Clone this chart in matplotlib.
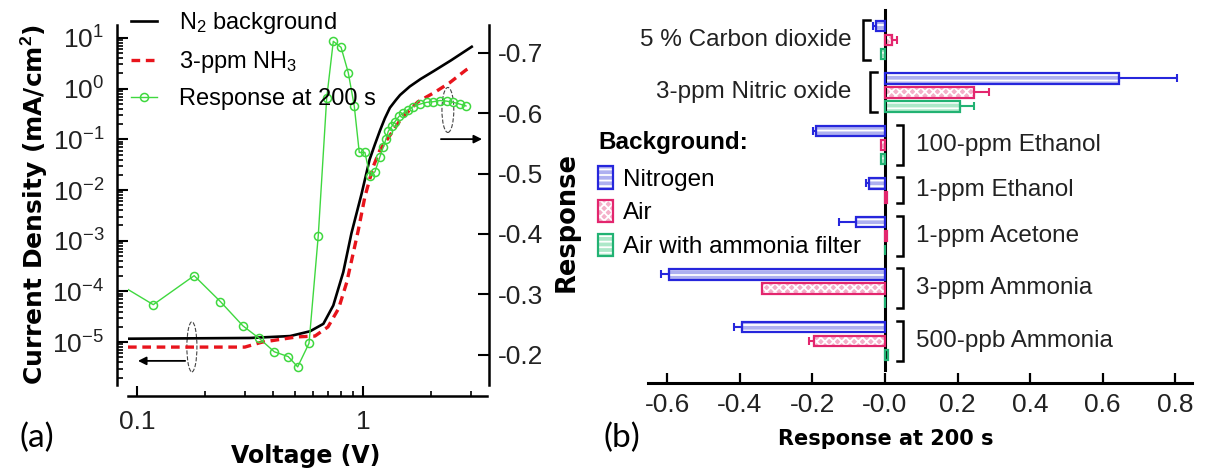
import numpy as np
import matplotlib
matplotlib.use('Agg')
import matplotlib.pyplot as plt
from matplotlib.patches import Ellipse, Rectangle
from matplotlib.legend_handler import HandlerTuple
from matplotlib.ticker import LogLocator, NullFormatter

plt.rcParams['font.family'] = 'Liberation Sans'
plt.rcParams['mathtext.fontset'] = 'custom'
plt.rcParams['mathtext.rm'] = 'Liberation Sans'
plt.rcParams['mathtext.it'] = 'Liberation Sans:italic'
plt.rcParams['mathtext.bf'] = 'Liberation Sans:bold'
plt.rcParams['hatch.linewidth'] = 1.3
plt.rcParams['axes.unicode_minus'] = False

# ---- (a) J-V curves and response ----
volt_n2 = [0.0912, 0.316, 0.476, 0.583, 0.668, 0.739, 0.818, 0.889, 0.987, 1.07,
           1.13, 1.19, 1.25, 1.316, 1.40, 1.46, 1.61, 1.80, 2.05, 2.45, 3.03]
j_n2 = [1.17e-5, 1.21e-5, 1.32e-5, 1.64e-5, 2.3e-5, 5.3e-5, 2.4e-4, 1.4e-3, 8.6e-3, 4.0e-2,
        8.0e-2, 1.5e-1, 2.6e-1, 4.2e-1, 6.0e-1, 7.5e-1, 1.1, 1.55, 2.2, 3.6, 6.7]

volt_nh3 = [0.0912, 0.30, 0.357, 0.509, 0.613, 0.70, 0.78, 0.847, 0.922, 0.953,
            1.02, 1.11, 1.19, 1.30, 1.48, 1.75, 2.08, 2.42, 2.86, 3.03]
j_nh3 = [8.0e-6, 8.0e-6, 1.0e-5, 1.27e-5, 1.32e-5, 2.0e-5, 4.6e-5, 1.5e-4, 8.2e-4, 1.6e-3,
         7.4e-3, 2.9e-2, 6.2e-2, 1.1e-1, 2.6e-1, 5.5e-1, 8.5e-1, 1.31, 2.34, 2.72]

volt_resp = [0.085, 0.118, 0.179, 0.234, 0.294, 0.348, 0.405, 0.467, 0.514, 0.577,
             0.634, 0.691, 0.739, 0.80, 0.861, 0.915, 0.963, 1.02, 1.074, 1.13,
             1.189, 1.230, 1.264, 1.294, 1.340, 1.385, 1.447, 1.508, 1.586, 1.670,
             1.787, 1.914, 2.047, 2.191, 2.346, 2.510, 2.687, 2.857]
resp_200s = [-0.315, -0.283, -0.331, -0.288, -0.248, -0.227, -0.205, -0.197, -0.180, -0.219,
             -0.397, -0.625, -0.719, -0.709, -0.667, -0.612, -0.535, -0.535, -0.496, -0.503,
             -0.528, -0.544, -0.557, -0.570, -0.578, -0.586, -0.595, -0.600, -0.606, -0.611,
             -0.615, -0.618, -0.619, -0.621, -0.620, -0.618, -0.615, -0.612]

# ---- (b) response at 200 s ----
gas_labels = ['5 % Carbon dioxide', '3-ppm Nitric oxide', '100-ppm Ethanol',
              '1-ppm Ethanol', '1-ppm Acetone', '3-ppm Ammonia', '500-ppb Ammonia']
series_names = ['Nitrogen', 'Air', 'Air with ammonia filter']
resp_n2 = [-0.025, 0.645, -0.19, -0.045, -0.08, -0.595, -0.395]
err_n2 = [0.007, 0.16, 0.008, 0.008, 0.046, 0.022, 0.02]
resp_air = [0.018, 0.246, -0.010, 0.006, 0.005, -0.338, -0.195]
err_air = [0.016, 0.041, 0, 0, 0, 0, 0.013]
resp_filter = [-0.011, 0.207, -0.011, np.nan, 0.0, 0.0, 0.009]
err_filter = [0, 0.037, 0, 0, 0, 0, 0]
xtick_vals = [-0.6, -0.4, -0.2, 0.0, 0.2, 0.4, 0.6, 0.8]
xtick_text = ['-0.6', '-0.4', '-0.2', '-0.0', '0.2', '0.4', '0.6', '0.8']

W, H = 1205, 472
fig = plt.figure(figsize=(W / 100, H / 100), dpi=100)

# ================= panel (a) =================
axa = fig.add_axes([128 / W, 1 - 385 / H, 359 / W, 360 / H])
axa.set_xscale('log')
axa.set_yscale('log')
l1, = axa.plot(volt_n2, j_n2, color='black', lw=1.9)
l2, = axa.plot(volt_nh3, j_nh3, color='#e8141c', lw=2.4, ls=(0, (2.6, 1.7)))
axa.set_xlim(0.0912, 3.54)
axa.set_ylim(1.43e-6, 18.0)

axa.spines['top'].set_visible(False)
axa.spines['right'].set_visible(False)
axa.spines['left'].set_position(('outward', 8))
axa.spines['bottom'].set_position(('outward', 8))
for s in ['left', 'bottom']:
    axa.spines[s].set_linewidth(1.8)

axa.set_xticks([0.1, 1])
axa.set_xticklabels(['0.1', '1'])
axa.xaxis.set_minor_locator(LogLocator(subs=np.arange(2, 10)))
axa.xaxis.set_minor_formatter(NullFormatter())
axa.set_yticks([1e-5, 1e-4, 1e-3, 1e-2, 1e-1, 1e0, 1e1])
axa.yaxis.set_minor_locator(LogLocator(subs=np.arange(2, 10), numticks=30))
axa.yaxis.set_minor_formatter(NullFormatter())
axa.tick_params(which='major', direction='in', length=8, width=1.5, labelsize=19,
                labelcolor='#222222')
axa.tick_params(which='minor', direction='in', length=4.5, width=1.2)
axa.tick_params(axis='x', which='major', length=7, pad=10)
axa.tick_params(axis='x', which='minor', length=3.6)
axa.tick_params(axis='y', pad=9)

axr = axa.twinx()
l3, = axr.plot(volt_resp, resp_200s, color='#3fd83f', lw=1.0, marker='o', ms=5.8,
               mfc='none', mec='#3fd83f', mew=1.1)
axr.set_ylim(-0.15, -0.746)
for s in ['left', 'top', 'bottom']:
    axr.spines[s].set_visible(False)
axr.spines['right'].set_position(('outward', 1.5))
axr.spines['right'].set_linewidth(1.8)
axr.set_yticks([-0.7, -0.6, -0.5, -0.4, -0.3, -0.2])
axr.tick_params(axis='y', direction='in', length=8, width=1.5, labelsize=19, pad=6,
                labelcolor='#222222')

# dashed ellipses and arrows
axa.add_patch(Ellipse((0.178, 0.106), 0.028, 0.139, transform=axa.transAxes,
                      fill=False, ls='--', lw=0.8, ec='#444444', clip_on=False))
axa.add_patch(Ellipse((0.891, 0.764), 0.033, 0.125, transform=axa.transAxes,
                      fill=False, ls='--', lw=0.8, ec='#444444', clip_on=False))
axa.annotate('', xy=(0.02, 0.067), xytext=(0.167, 0.067), xycoords='axes fraction',
             arrowprops=dict(arrowstyle='-|>', color='black', lw=1.3, mutation_scale=12))
axa.annotate('', xy=(0.994, 0.683), xytext=(0.864, 0.683), xycoords='axes fraction',
             arrowprops=dict(arrowstyle='-|>', color='black', lw=1.3, mutation_scale=12))

fig.legend([l1, l2, l3], ['N$_2$ background', '3-ppm NH$_3$', 'Response at 200 s'],
           loc='upper left', bbox_to_anchor=(131 / W, 1 - 10 / H), frameon=False,
           fontsize=17, handlelength=1.1, handletextpad=0.95, labelspacing=0.55,
           borderpad=0, borderaxespad=0)

fig.text(34 / W, 1 - 205 / H, 'Current Density (mA/cm$^{\\mathbf{2}}$)', rotation=90,
         ha='center', va='center', family='DejaVu Sans', weight='bold', size=18)
fig.text(567 / W, 1 - 222 / H, 'Response', rotation=90, ha='center', va='center',
         family='DejaVu Sans', weight='bold', size=18.5)
fig.text(306 / W, 1 - 456 / H, 'Voltage (V)', ha='center', va='center',
         family='DejaVu Sans', weight='bold', size=17)
fig.text(37 / W, 1 - 438 / H, '(a)', ha='center', va='center', family='Lato', size=24)

# ================= panel (b) =================
axb = fig.add_axes([648 / W, 1 - 370 / H, 544 / W, 360 / H])
axb.set_xlim(-0.653, 0.846)
axb.set_ylim(370, 10)

faces = ['#aeb0f0', '#f4afc9', '#ade8c9']
edges = ['#2626dc', '#e3266e', '#22b273']
hatches = ['---', 'xxxx', '---']
values = [resp_n2, resp_air, resp_filter]
errors = [err_n2, err_air, err_filter]

# bar slots: 14 apart within a group, wider gap between groups
slot = {k: [] for k in range(3)}
group_span = []
y = 26.0
for i in range(len(gas_labels)):
    ys = []
    for k in range(3):
        if np.isnan(values[k][i]):
            slot[k].append(np.nan)
            continue
        slot[k].append(y)
        ys.append(y)
        y += 14
    group_span.append((ys[0], ys[-1]))
    y += 10.5

for k in range(3):
    v = np.array(values[k], dtype=float)
    e = np.array(errors[k], dtype=float)
    pos = np.array(slot[k])
    ok = ~np.isnan(v)
    axb.barh(pos[ok], v[ok], height=10.5, color=faces[k], edgecolor='white',
             hatch=hatches[k], lw=0, zorder=2)
    axb.barh(pos[ok], v[ok], height=10.5, fill=False, edgecolor=edges[k], lw=1.6,
             zorder=3)
    has = ok & (e > 0)
    lo = np.where(v[has] < 0, e[has], 0)
    hi = np.where(v[has] >= 0, e[has], 0)
    axb.errorbar(v[has], pos[has], xerr=[lo, hi], fmt='none', ecolor=edges[k],
                 elinewidth=1.5, capsize=3, capthick=1.5, zorder=3)

left_bracket_x = [-0.06, -0.04]
for i, name in enumerate(gas_labels):
    top, bot = group_span[i][0] - 6, group_span[i][1] + 6
    mid = (group_span[i][0] + group_span[i][1]) / 2
    if i < len(left_bracket_x):
        bx = left_bracket_x[i]
        axb.plot([bx + 0.018, bx, bx, bx + 0.018], [top, top, bot, bot], color='black',
                 lw=1.8, clip_on=False, solid_joinstyle='miter')
        axb.text(-0.092, mid, name, ha='right', va='center', size=17.5, color='#222222')
    else:
        bx = 0.05
        axb.plot([bx - 0.018, bx, bx, bx - 0.018], [top, top, bot, bot], color='black',
                 lw=1.8, clip_on=False, solid_joinstyle='miter')
        axb.text(0.085, mid, name, ha='left', va='center', size=17.5, color='#222222')

axb.spines['top'].set_visible(False)
axb.spines['right'].set_visible(False)
axb.spines['left'].set_position(('data', 0))
axb.spines['left'].set_linewidth(2.2)
axb.spines['bottom'].set_position(('outward', 9.4))
axb.spines['bottom'].set_linewidth(2.2)
axb.set_yticks([])
axb.set_xticks(xtick_vals)
axb.set_xticklabels(xtick_text)
axb.tick_params(axis='x', direction='in', length=7, width=1.6, labelsize=19, pad=7,
                labelcolor='#222222')

handles = []
for k in range(3):
    pf = Rectangle((0, 0), 1, 1, facecolor=faces[k], edgecolor='white', hatch=hatches[k], lw=0)
    pe = Rectangle((0, 0), 1, 1, fill=False, edgecolor=edges[k], lw=1.6)
    handles.append((pf, pe))
fig.text(598 / W, 1 - 142 / H, 'Background:', ha='left', va='center', weight='bold',
         size=17.5)
fig.legend(handles, series_names, loc='upper left', bbox_to_anchor=(598 / W, 1 - 166 / H),
           frameon=False, fontsize=17.5, handlelength=0.62, handleheight=1.05,
           handletextpad=0.4, labelspacing=0.38, borderpad=0, borderaxespad=0,
           handler_map={tuple: HandlerTuple(ndivide=1, pad=0)})

fig.text(886 / W, 1 - 439 / H, 'Response at 200 s', ha='center', va='center',
         family='DejaVu Sans', weight='bold', size=15)
fig.text(622 / W, 1 - 438 / H, '(b)', ha='center', va='center', family='Lato', size=24)

fig.savefig('out.png', dpi=100)
